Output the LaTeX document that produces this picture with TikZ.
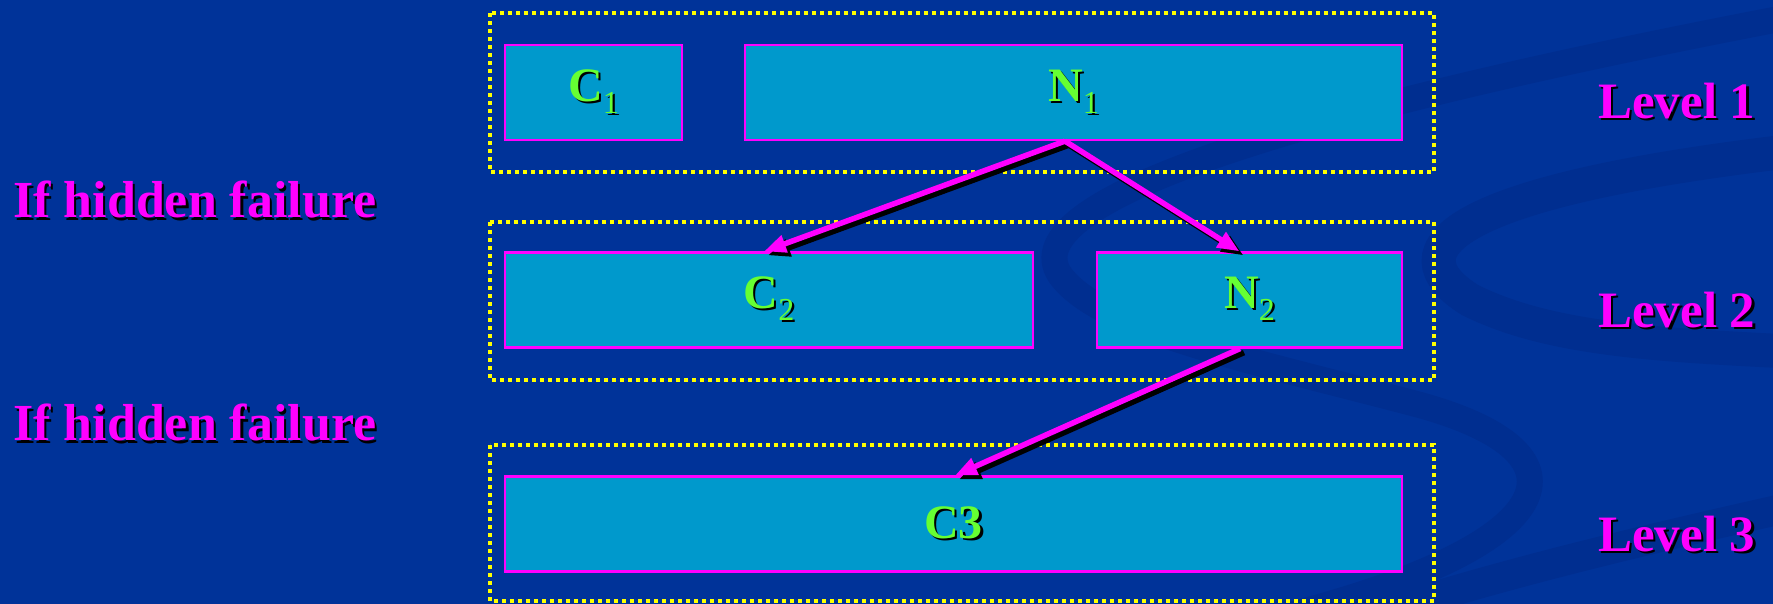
\documentclass[tikz,border=0pt]{standalone}
\usepackage{fontspec}
\setmainfont{Liberation Serif}
\usetikzlibrary{arrows.meta,calc}
\definecolor{bgblue}{RGB}{0,51,153}
\definecolor{swirl}{RGB}{0,46,144}
\definecolor{boxfill}{RGB}{0,153,204}
\definecolor{mag}{RGB}{255,0,255}
\definecolor{lgreen}{RGB}{102,255,51}
\definecolor{dotyellow}{RGB}{255,255,0}
\newcommand\shd[2]{\makebox[0pt][l]{\hspace{2.2pt}\raisebox{-2.2pt}{\color{black}#2}}{\color{#1}#2}}
\newcommand\boxlbl[2]{\shd{lgreen}{#1\raisebox{-12pt}{\fontsize{32}{32}\selectfont\mdseries #2}}}
\tikzset{
  cell/.style={draw=mag, line width=2.2pt, fill=boxfill, inner sep=0pt,
    minimum height=95pt, font=\fontsize{48}{56}\selectfont\bfseries},
  levelframe/.style={draw=dotyellow, line width=3.6pt, dash pattern=on 3.6pt off 4.4pt},
  sidelbl/.style={anchor=west, inner sep=0pt, font=\fontsize{51}{60}\selectfont\bfseries},
  flow/.style={draw=mag, line width=5.5pt, -{Triangle[length=22pt,width=17pt]}},
  flowshadow/.style={draw=black, line width=5.5pt, -{Triangle[length=22pt,width=17pt]}},
  sh/.style={xshift=4pt,yshift=-4pt},
}
\begin{document}
\begin{tikzpicture}[x=1pt,y=-1pt]
\useasboundingbox (0,0) rectangle (1773,603);
\fill[bgblue] (-10,-10) rectangle (1783,613);
% background swirl decoration
\begin{scope}[swirl, line cap=round]
\draw[line width=34pt] (1800,150) .. controls (1450,190) and (1390,250) .. (1470,300) .. controls (1550,340) and (1660,345) .. (1800,352);
\draw[line width=26pt] (1800,15) .. controls (1300,110) and (1010,200) .. (1060,275) .. controls (1100,330) and (1250,360) .. (1420,405) .. controls (1600,455) and (1560,545) .. (1290,615);
\draw[line width=30pt] (1800,505) .. controls (1620,545) and (1480,580) .. (1360,620);
\end{scope}
% level frames
\draw[levelframe] (490,13) rectangle (1434,172);
\draw[levelframe] (490,222) rectangle (1434,380);
\draw[levelframe] (490,445) rectangle (1434,601);
% boxes
\node[cell, minimum width=177pt] (c1) at (593.5,92.5) {\boxlbl{C}{1}};
\node[cell, minimum width=657pt] (n1) at (1073.5,92.5) {\boxlbl{N}{1}};
\node[cell, minimum width=528pt] (c2) at (769,300) {\boxlbl{C}{2}};
\node[cell, minimum width=305pt] (n2) at (1249.5,300) {\boxlbl{N}{2}};
\node[cell, minimum width=897pt] (c3) at (953.5,524) {\shd{lgreen}{C3}};
% side labels
\node[sidelbl, font=\fontsize{52}{60}\selectfont\bfseries] (h1) at (13,201) {\shd{mag}{If hidden failure}};
\node[sidelbl, font=\fontsize{52}{60}\selectfont\bfseries] (h2) at (13,424) {\shd{mag}{If hidden failure}};
\node[sidelbl] (l1) at (1598,102) {\shd{mag}{Level 1}};
\node[sidelbl] (l2) at (1598,311) {\shd{mag}{Level 2}};
\node[sidelbl] (l3) at (1598,535) {\shd{mag}{Level 3}};
% connector end points
\coordinate (s1) at ($(n1.south)+(-8.5,0)$);
\coordinate (t1) at ($(c2.north)+(-5,0)$);
\coordinate (t2) at ($(n2.north)+(-10,0)$);
\coordinate (s3) at ($(n2.south)+(-9.5,0)$);
\coordinate (t3) at ($(c3.north)+(1.5,0)$);
% shadows
\draw[flowshadow] ([sh]s1) -- ([sh]t1);
\draw[flowshadow] ([sh]s1) -- ([sh]t2);
\draw[flowshadow] ([sh]s3) -- ([sh]t3);
% arrows
\draw[flow] (s1) -- (t1);
\draw[flow] (s1) -- (t2);
\draw[flow] (s3) -- (t3);
\end{tikzpicture}
\end{document}
